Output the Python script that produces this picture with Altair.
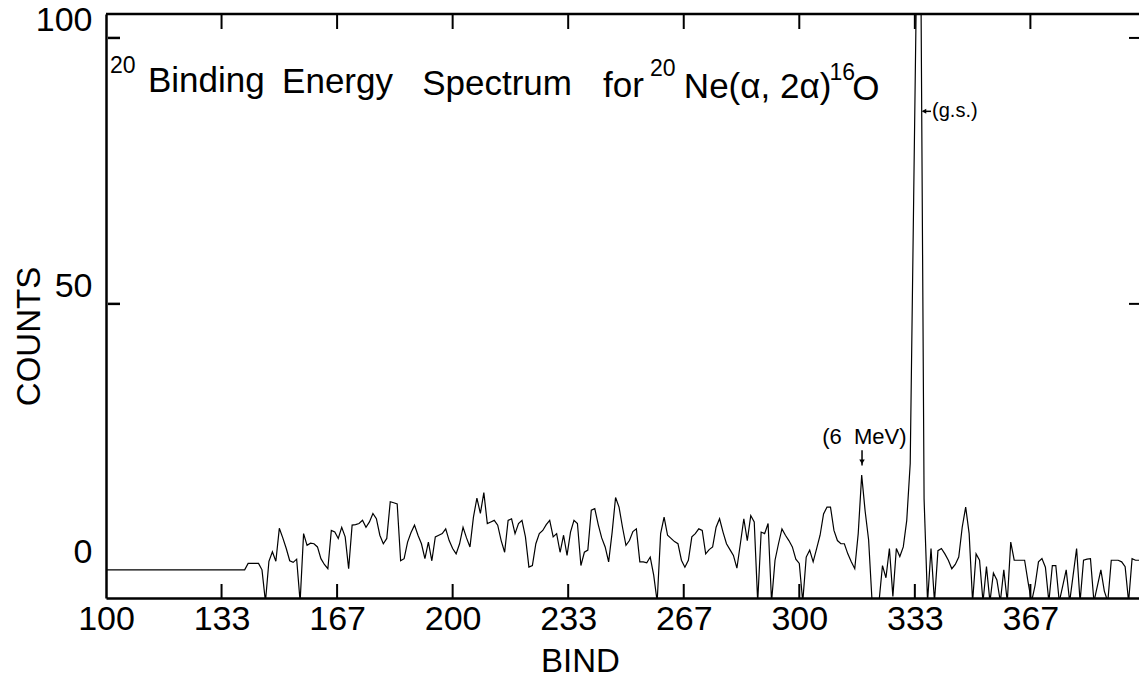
import altair as alt
import pandas as pd

# ---------------- data ----------------
bind = list(range(100, 400))
counts = [
    0, 0, 0, 0, 0, 0, 0, 0, 0, 0,            # 100-109
    0, 0, 0, 0, 0, 0, 0, 0, 0, 0,            # 110-119
    0, 0, 0, 0, 0, 0, 0, 0, 0, 0,            # 120-129
    0, 0, 0, 0, 0, 0, 0, 0, 0, 0,            # 130-139
    0,                                       # 140
    1.2, 1.2, 1.2, 1.2, 0, -6, 1.6, 3.4, 1.6,  # 141-149
    7.8, 6.0, 4.0, 1.7, 1.4, 2.0, -6, 6.8, 4.6, 5.0,     # 150
    4.9, 4.3, 2.1, 1.0, 0.2, 7.4, 7.1, 5.9, 8.0, 6.2,    # 160
    0.2, 8.4, 8.5, 8.7, 9.3, 8.0, 9.0, 10.6, 9.6, 6.5,   # 170
    4.9, 5.9, 12.8, 12.6, 12.4, 1.7, 2.1, 5.2, 7.0, 8.4, # 180
    6.5, 4.9, 2.1, 5.2, 1.7, 6.2, 6.5, 6.8, 7.7, 5.5,    # 190
    4.0, 3.0, 4.9, 8.0, 6.0, 4.3, 9.9, 13.5, 10.6, 14.5, # 200
    8.7, 9.0, 9.3, 8.4, 5.5, 3.3, 9.3, 9.6, 6.8, 8.7,    # 210
    9.3, 6.2, 0.5, 0.8, 4.9, 6.8, 7.4, 8.5, 9.3, 6.2,    # 220
    6.8, 3.3, 6.5, 2.7, 7.1, 9.3, 8.7, 0.8, 3.3, 3.7,    # 230
    11.2, 11.5, 8.5, 6.0, 4.3, 1.5, 7.0, 13.6, 11.8, 8.0,  # 240
    4.6, 5.5, 7.2, 7.7, 1.5, 1.5, 1.3, 2.4, -1, -6,      # 250
    6.8, 9.9, 6.5, 5.9, 5.3, 4.9, 1.8, 0.5, 1.8, 6.2,    # 260
    6.8, 7.7, 7.4, 3.0, 3.8, 4.3, 8.0, 9.6, 7.1, 4.9,    # 270
    3.8, 2.7, 0.3, 4.9, 9.6, 5.5, 10.2, 9.0, -6, 7.1,    # 280
    6.8, 8.7, -6, 1.8, 4.9, 7.7, 6.5, 5.5, 4.3, 2.0,     # 290
    1.2, -6, 2.4, 3.7, 1.5, 4.0, 6.5, 10.5, 11.8, 11.8,  # 300
    7.4, 5.5, 4.9, 4.9, 3.0, 1.5, 0.2, 6.8, 17.8, 11.0,  # 310
    5.6, -6, -6, -6, 0.8, -1.5, 4.0, -5, 4.0, 2.5,       # 320
    4.3, 9.3, 20, 70, 120, 120, 13.3, -6, 4.0, -6,       # 330
    3.6, 4.0, 3.0, 1.8, 0.2, 1.0, 2.4, 8.0, 11.8, 6.8,   # 340
    -6, 3.0, 1.8, -6, 0.6, -6, -0.6, -1.9, -6, 0,        # 350
    -6, 5.2, 1.8, 1.8, 1.8, 1.8, -2.3, -6, -3, 1.5,      # 360
    2.1, 0.5, -6, 0.8, 0.8, -6, -3, 0, -6, -1,           # 370
    4.0, -6, 1.8, 2.0, 2.1, -6, -3, 0, -4, -6,           # 380
    1.8, 1.8, 1.8, 1.5, 0.6, -6, 2.1, 1.8, 1.8, 1.8,     # 390
]

x_ticks = [133.333, 166.667, 200, 233.333, 266.667, 300, 333.333, 366.667]
x_label_values = [100, 133.333, 166.667, 200, 233.333, 266.667, 300, 333.333, 366.667]
y_label_values = [0, 50, 100]
y_side_ticks = [50, 100]

title_text = ["20", "Binding", "Energy", "Spectrum", "for", "20", "Ne(α,\u00a02α)", "16", "O"]
title_x = [101.15, 112.1, 150.8, 191.2, 243.4, 256.9, 266.7, 308.7, 315.3]
title_y = [93.4, 89.8, 89.6, 89.3, 88.9, 92.8, 88.7, 92.1, 88.3]
title_size = [23, 35, 35, 35, 35, 23, 35, 23, 35]

# ---------------- layout ----------------
W, H = 1033, 584
XDOM = [100, 398]
YDOM = [-5.3, 104.5]
SANS = "Liberation Sans, Arial, sans-serif"

xs = alt.Scale(domain=XDOM, nice=False, zero=False)
ys = alt.Scale(domain=YDOM, nice=False, zero=False)

XAX = alt.Axis(
    values=x_label_values, labelExpr="format(round(datum.value), 'd')",
    ticks=False, grid=False, domain=True, domainColor="black", domainWidth=2.5,
    labelFont=SANS, labelFontSize=34, labelColor="black", labelPadding=4,
    labelFlush=False, labelOverlap=False,
    title="BIND", titleFont=SANS, titleFontSize=33, titleFontWeight="normal",
    titleColor="black", titleX=474, titleY=63, titleAlign="center",
    titleBaseline="middle")
YAX = alt.Axis(
    values=y_label_values, ticks=False, grid=False, domain=True,
    domainColor="black", domainWidth=2.5,
    labelFont=SANS, labelFontSize=34, labelColor="black", labelPadding=14,
    labelOffset=-17, labelFlush=False, labelOverlap=False,
    title="COUNTS", titleFont=SANS, titleFontSize=33, titleFontWeight="normal",
    titleColor="black", titleAngle=270, titleX=-77, titleY=322,
    titleAlign="center", titleBaseline="middle")


def X(field):
    return alt.X(field, scale=xs, axis=XAX)


def Y(field):
    return alt.Y(field, scale=ys, axis=YAX)


df = pd.DataFrame({"bind": bind, "counts": counts})

spectrum = alt.Chart(df).mark_line(color="black", strokeWidth=1.2, clip=True).encode(
    x=X("bind:Q"), y=Y("counts:Q"))

frame_top = alt.Chart(pd.DataFrame({"k": [0]})).mark_rule(color="black", strokeWidth=2.5).encode(
    x=alt.value(0), x2=alt.value(W), y=alt.value(0))

tick_df = pd.DataFrame({"t": x_ticks})
ticks_bottom = alt.Chart(tick_df).mark_rule(color="black", strokeWidth=2).encode(
    x=X("t:Q"), y=alt.value(H), y2=alt.value(H - 14))
ticks_top = alt.Chart(tick_df).mark_rule(color="black", strokeWidth=2).encode(
    x=X("t:Q"), y=alt.value(0), y2=alt.value(15))

left_df = pd.DataFrame({"lv": y_side_ticks})
ticks_left = alt.Chart(left_df).mark_rule(color="black", strokeWidth=2.5).encode(
    y=Y("lv:Q"), x=alt.value(2), x2=alt.value(14))
right_df = pd.DataFrame({"rv": y_side_ticks})
ticks_right = alt.Chart(right_df).mark_rule(color="black", strokeWidth=2).encode(
    y=Y("rv:Q"), x=alt.value(W - 10), x2=alt.value(W))

title_df = pd.DataFrame({"text": title_text, "x": title_x, "y": title_y, "size": title_size})
title = alt.Chart(title_df).mark_text(align="left", baseline="alphabetic", font=SANS,
                                      color="black").encode(
    x=X("x:Q"), y=Y("y:Q"),
    text="text:N", size=alt.Size("size:Q", scale=None, legend=None))

# annotations
mev_text = alt.Chart(pd.DataFrame({"x": [306.6], "y": [25.0], "t": ["(6\u00a0\u00a0MeV)"]})).mark_text(
    align="left", baseline="middle", font=SANS, fontSize=22, color="black").encode(
    x=X("x:Q"), y=Y("y:Q"), text="t:N")
mev_arrow = alt.Chart(pd.DataFrame({"x": [318.1], "y": [22.5], "y2": [19.6]})).mark_rule(
    color="black", strokeWidth=1.5).encode(x=X("x:Q"), y=Y("y:Q"), y2="y2:Q")
mev_head = alt.Chart(pd.DataFrame({"x": [318.1], "y": [20.3]})).mark_point(
    shape="triangle-down", filled=True, color="black", size=30, opacity=1).encode(
    x=X("x:Q"), y=Y("y:Q"))

gs_text = alt.Chart(pd.DataFrame({"x": [338.3], "y": [86.2], "t": ["(g.s.)"]})).mark_text(
    align="left", baseline="middle", font=SANS, fontSize=20, color="black").encode(
    x=X("x:Q"), y=Y("y:Q"), text="t:N")
gs_arrow = alt.Chart(pd.DataFrame({"x": [335.6], "x2": [338.0], "y": [86.2]})).mark_rule(
    color="black", strokeWidth=1.5).encode(x=X("x:Q"), x2="x2:Q", y=Y("y:Q"))
gs_head = alt.Chart(pd.DataFrame({"x": [336.0], "y": [86.2]})).mark_point(
    shape="triangle-left", filled=True, color="black", size=25, opacity=1).encode(
    x=X("x:Q"), y=Y("y:Q"))

chart = alt.layer(
    spectrum, frame_top, ticks_bottom, ticks_top, ticks_right,
    title, mev_text, mev_arrow, mev_head, gs_text, gs_arrow, gs_head, ticks_left,
).properties(
    width=W, height=H,
    autosize=alt.AutoSizeParams(type="none"),
    padding={"left": 106, "top": 14, "right": 0, "bottom": 98},
    background="white",
).configure_view(stroke=None)

chart.save("out.html", embed_options={"renderer": "svg", "actions": False})
